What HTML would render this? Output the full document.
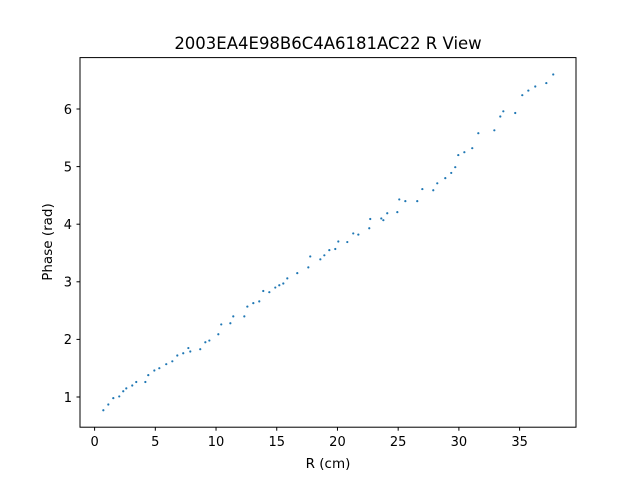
<!DOCTYPE html>
<html><head><meta charset="utf-8"><style>
body{margin:0;background:#fff;font-family:"Liberation Sans","DejaVu Sans",sans-serif}
svg text{font-family:"DejaVu Sans","Liberation Sans",sans-serif;fill:#000}
</style></head><body>
<svg id="chart" width="640" height="480" viewBox="0 0 640 480" xmlns="http://www.w3.org/2000/svg">
<rect width="640" height="480" fill="#fff"/>
<text x="328" y="49" font-size="16.5" text-anchor="middle">2003EA4E98B6C4A6181AC22 R View</text>
<g id="points"></g>
<g id="xticks"></g>
<g id="yticks"></g>
<rect x="80" y="57.6" width="496" height="369.6" fill="none" stroke="#000" stroke-width="1"/>
<text x="328" y="468" font-size="13.5" text-anchor="middle">R (cm)</text>
<text x="0" y="0" font-size="13.5" text-anchor="middle" transform="translate(52,242) rotate(-90)">Phase (rad)</text>
</svg>
<script>
const rValues=[0.72,1.13,1.54,2.03,2.36,2.61,3.10,3.43,4.18,4.42,4.92,5.33,5.90,6.40,6.81,7.30,7.72,7.88,8.70,9.12,9.45,10.19,10.43,11.18,11.42,12.33,12.58,13.07,13.56,13.89,14.39,14.88,15.21,15.54,15.87,16.69,17.60,17.76,18.59,18.92,19.33,19.82,20.07,20.81,21.30,21.72,22.62,22.70,23.61,23.78,24.10,24.93,25.09,25.59,26.57,26.99,27.89,28.22,28.88,29.37,29.70,29.95,30.45,31.10,31.60,32.92,33.41,33.66,34.64,35.22,35.72,36.29,37.20,37.77];
const phaseValues=[0.77,0.87,0.98,1.01,1.10,1.15,1.20,1.26,1.26,1.38,1.46,1.50,1.57,1.62,1.72,1.76,1.85,1.79,1.83,1.95,1.98,2.09,2.26,2.28,2.40,2.40,2.57,2.63,2.66,2.84,2.82,2.90,2.94,2.97,3.06,3.15,3.25,3.44,3.39,3.46,3.55,3.57,3.70,3.69,3.84,3.82,3.93,4.09,4.10,4.07,4.19,4.21,4.43,4.40,4.40,4.61,4.59,4.71,4.80,4.89,4.99,5.20,5.25,5.32,5.58,5.63,5.87,5.96,5.93,6.24,6.32,6.39,6.45,6.60];
const xTickValues=[0,5,10,15,20,25,30,35];
const yTickValues=[1,2,3,4,5,6];
const NS="http://www.w3.org/2000/svg";
function xScale(v){return 94.6+v*12.143;}
function yScale(v){return 397-(v-1)*57.6;}
const pg=document.getElementById('points');
for(let i=0;i<rValues.length;i++){
  const c=document.createElementNS(NS,'circle');
  c.setAttribute('cx',xScale(rValues[i]));
  c.setAttribute('cy',yScale(phaseValues[i]));
  c.setAttribute('r',1.1);
  c.setAttribute('fill','#1f77b4');
  
  
  pg.appendChild(c);
}
const xg=document.getElementById('xticks');
xTickValues.forEach(v=>{
  const x=xScale(v);
  const l=document.createElementNS(NS,'line');
  l.setAttribute('x1',x);l.setAttribute('x2',x);l.setAttribute('y1',427.2);l.setAttribute('y2',430.7);l.setAttribute('stroke','#000');
  
  
  xg.appendChild(l);
  const t=document.createElementNS(NS,'text');
  t.setAttribute('x',x);t.setAttribute('y',446);t.setAttribute('font-size','13');t.setAttribute('text-anchor','middle');
  t.textContent=v;
  
  
  xg.appendChild(t);
});
const yg=document.getElementById('yticks');
yTickValues.forEach(v=>{
  const y=yScale(v);
  const l=document.createElementNS(NS,'line');
  l.setAttribute('x1',76.5);l.setAttribute('x2',80);l.setAttribute('y1',y);l.setAttribute('y2',y);l.setAttribute('stroke','#000');
  
  
  yg.appendChild(l);
  const t=document.createElementNS(NS,'text');
  t.setAttribute('x',72);t.setAttribute('y',y+4.8);t.setAttribute('font-size','13');t.setAttribute('text-anchor','end');
  t.textContent=v;
  
  
  yg.appendChild(t);
});
</script>
</body></html>
